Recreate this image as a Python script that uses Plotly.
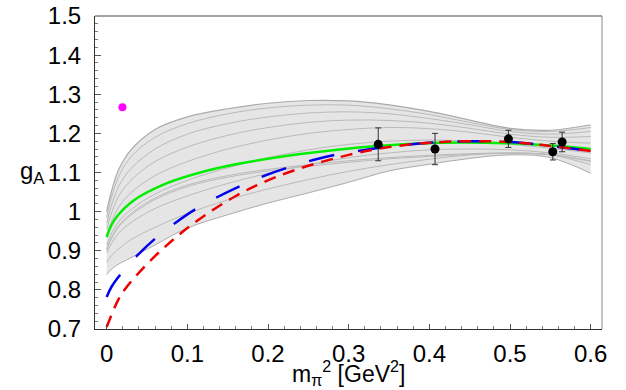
import plotly.graph_objects as go

# ---- data ----
band_x = [0, 0.005, 0.015, 0.03, 0.06, 0.1, 0.15, 0.2, 0.25, 0.3, 0.35, 0.4, 0.45, 0.5, 0.55, 0.6]
band_upper = [1.000, 1.045, 1.108, 1.158, 1.210, 1.242, 1.263, 1.277, 1.284, 1.283, 1.273, 1.256, 1.234, 1.213, 1.208, 1.222]
band_lower = [0.839, 0.851, 0.866, 0.882, 0.915, 0.958, 0.992, 1.022, 1.048, 1.075, 1.104, 1.121, 1.136, 1.145, 1.138, 1.098]

gray_curves = [
    [0.985, 1.030, 1.090, 1.140, 1.190, 1.225, 1.250, 1.265, 1.272, 1.272, 1.263, 1.248, 1.228, 1.210, 1.205, 1.215],
    [0.970, 1.010, 1.065, 1.110, 1.160, 1.198, 1.225, 1.242, 1.252, 1.255, 1.250, 1.238, 1.222, 1.205, 1.198, 1.205],
    [0.955, 0.990, 1.040, 1.080, 1.128, 1.165, 1.195, 1.215, 1.228, 1.234, 1.233, 1.226, 1.213, 1.198, 1.190, 1.192],
    [0.940, 0.970, 1.012, 1.048, 1.092, 1.128, 1.160, 1.183, 1.200, 1.210, 1.215, 1.212, 1.203, 1.190, 1.180, 1.175],
    [0.915, 0.940, 0.975, 1.005, 1.045, 1.080, 1.112, 1.138, 1.158, 1.172, 1.180, 1.183, 1.180, 1.172, 1.162, 1.150],
    [0.905, 0.930, 0.965, 0.995, 1.035, 1.068, 1.092, 1.108, 1.120, 1.130, 1.138, 1.144, 1.148, 1.150, 1.146, 1.130],
    [0.902, 0.927, 0.961, 0.991, 1.031, 1.064, 1.088, 1.104, 1.116, 1.126, 1.135, 1.141, 1.146, 1.149, 1.145, 1.128],
    [0.895, 0.915, 0.945, 0.972, 1.008, 1.040, 1.072, 1.098, 1.120, 1.138, 1.150, 1.158, 1.160, 1.158, 1.150, 1.135],
    [0.870, 0.885, 0.905, 0.928, 0.960, 0.995, 1.030, 1.058, 1.082, 1.103, 1.120, 1.134, 1.145, 1.150, 1.145, 1.120],
]

green_x = [0, 0.005, 0.0124, 0.033, 0.074, 0.116, 0.16, 0.24, 0.335, 0.413, 0.496, 0.55, 0.6]
green_y = [0.935, 0.962, 0.987, 1.028, 1.072, 1.100, 1.121, 1.147, 1.168, 1.176, 1.175, 1.169, 1.160]

blue_x = [0, 0.006, 0.0165, 0.037, 0.06, 0.085, 0.11, 0.138, 0.165, 0.196, 0.225, 0.256, 0.285, 0.318, 0.35, 0.4, 0.45, 0.5, 0.55, 0.6]
blue_y = [0.782, 0.808, 0.838, 0.886, 0.931, 0.971, 1.006, 1.038, 1.065, 1.092, 1.113, 1.132, 1.146, 1.157, 1.166, 1.176, 1.180, 1.178, 1.168, 1.155]

red_x = [0, 0.0144, 0.025, 0.05, 0.075, 0.1, 0.13, 0.16, 0.19, 0.233, 0.3, 0.35, 0.4, 0.45, 0.5, 0.55, 0.6]
red_y = [0.705, 0.775, 0.808, 0.866, 0.915, 0.958, 1.002, 1.040, 1.071, 1.106, 1.145, 1.165, 1.176, 1.180, 1.178, 1.168, 1.155]

lattice_x = [0.3366, 0.407, 0.498, 0.553, 0.5646]
lattice_y = [1.172, 1.160, 1.186, 1.153, 1.178]
lattice_err = [0.042, 0.040, 0.022, 0.021, 0.025]

phys_x = [0.0195]
phys_y = [1.267]

x_tickvals = [0, 0.1, 0.2, 0.3, 0.4, 0.5, 0.6]
x_ticktext = ["0", "0.1", "0.2", "0.3", "0.4", "0.5", "0.6"]
y_tickvals = [0.7, 0.8, 0.9, 1.0, 1.1, 1.2, 1.3, 1.4, 1.5]
y_ticktext = ["0.7", "0.8", "0.9", "1", "1.1", "1.2", "1.3", "1.4", "1.5"]

FONT = "Liberation Sans, Arial, Helvetica, sans-serif"

fig = go.Figure()

# band
fig.add_trace(go.Scatter(x=band_x, y=band_lower, mode="lines",
                         line=dict(color="#ababab", width=1, shape="spline"),
                         showlegend=False, hoverinfo="skip"))
fig.add_trace(go.Scatter(x=band_x, y=band_upper, mode="lines", fill="tonexty",
                         fillcolor="#e5e5e5",
                         line=dict(color="#ababab", width=1.2, shape="spline"),
                         showlegend=False, hoverinfo="skip"))
for cy in gray_curves:
    fig.add_trace(go.Scatter(x=band_x, y=cy, mode="lines",
                             line=dict(color="#bababa", width=1, shape="spline"),
                             showlegend=False, hoverinfo="skip"))

fig.add_trace(go.Scatter(x=green_x, y=green_y, mode="lines",
                         line=dict(color="#00ee00", width=2.5, shape="spline"),
                         showlegend=False))
fig.add_trace(go.Scatter(x=blue_x, y=blue_y, mode="lines",
                         line=dict(color="#0000ee", width=2.5, shape="spline", dash="26px,24px"),
                         showlegend=False))
fig.add_trace(go.Scatter(x=red_x, y=red_y, mode="lines",
                         line=dict(color="#ee0000", width=2.5, shape="spline", dash="12px,8px"),
                         showlegend=False))

fig.add_trace(go.Scatter(x=lattice_x, y=lattice_y, mode="markers",
                         marker=dict(color="black", size=9),
                         error_y=dict(type="data", array=lattice_err, color="#333333",
                                      thickness=1, width=3),
                         showlegend=False))
fig.add_trace(go.Scatter(x=phys_x, y=phys_y, mode="markers",
                         marker=dict(color="#ff00ff", size=8),
                         showlegend=False))

fig.update_layout(
    width=626, height=390,
    margin=dict(l=95, r=24, t=16, b=61),
    plot_bgcolor="white", paper_bgcolor="white",
    font=dict(family=FONT, size=24, color="black"),
    xaxis=dict(range=[-0.0145, 0.614], showgrid=False, zeroline=False, automargin=False,
               showline=True, linecolor="#333333", linewidth=1,
               ticks="inside", ticklen=5, tickcolor="#555555",
               tickvals=x_tickvals, ticktext=x_ticktext,
               ticklabelstandoff=3,
               minor=dict(tickvals=[round(0.02 * i, 2) for i in range(31)], ticks="inside", ticklen=3,
                          tickcolor="#777777")),
    yaxis=dict(range=[0.7, 1.5], showgrid=False, zeroline=False, automargin=False,
               showline=True, linecolor="#333333", linewidth=1,
               ticks="inside", ticklen=6, tickcolor="#555555",
               tickvals=y_tickvals, ticktext=y_ticktext,
               ticklabelstandoff=8,
               minor=dict(tickvals=[round(0.7 + 0.02 * i, 2) for i in range(41)], ticks="inside", ticklen=3,
                          tickcolor="#777777")),
    shapes=[
        dict(type="line", xref="paper", yref="paper", x0=0, x1=1, y0=1, y1=1,
             line=dict(color="#444444", width=1)),
        dict(type="line", xref="paper", yref="paper", x0=1, x1=1, y0=0, y1=1,
             line=dict(color="#888888", width=1)),
    ],
    annotations=[
        dict(text="g<sub>A</sub>", xref="paper", yref="y", x=-0.124, y=1.1,
             showarrow=False, xanchor="center", yanchor="middle",
             font=dict(size=24, family=FONT)),
        dict(text="m<sub>π</sub><sup>2</sup> [GeV<sup>2</sup>]", xref="paper", yref="paper",
             x=0.5, y=-0.141, showarrow=False, xanchor="center", yanchor="middle",
             font=dict(size=23, family=FONT)),
    ],
)

# remove the default 8px page margin so the figure fills the window exactly
fig.write_html("out.html", config={"displayModeBar": False},
               post_script="document.body.style.margin='0';")
